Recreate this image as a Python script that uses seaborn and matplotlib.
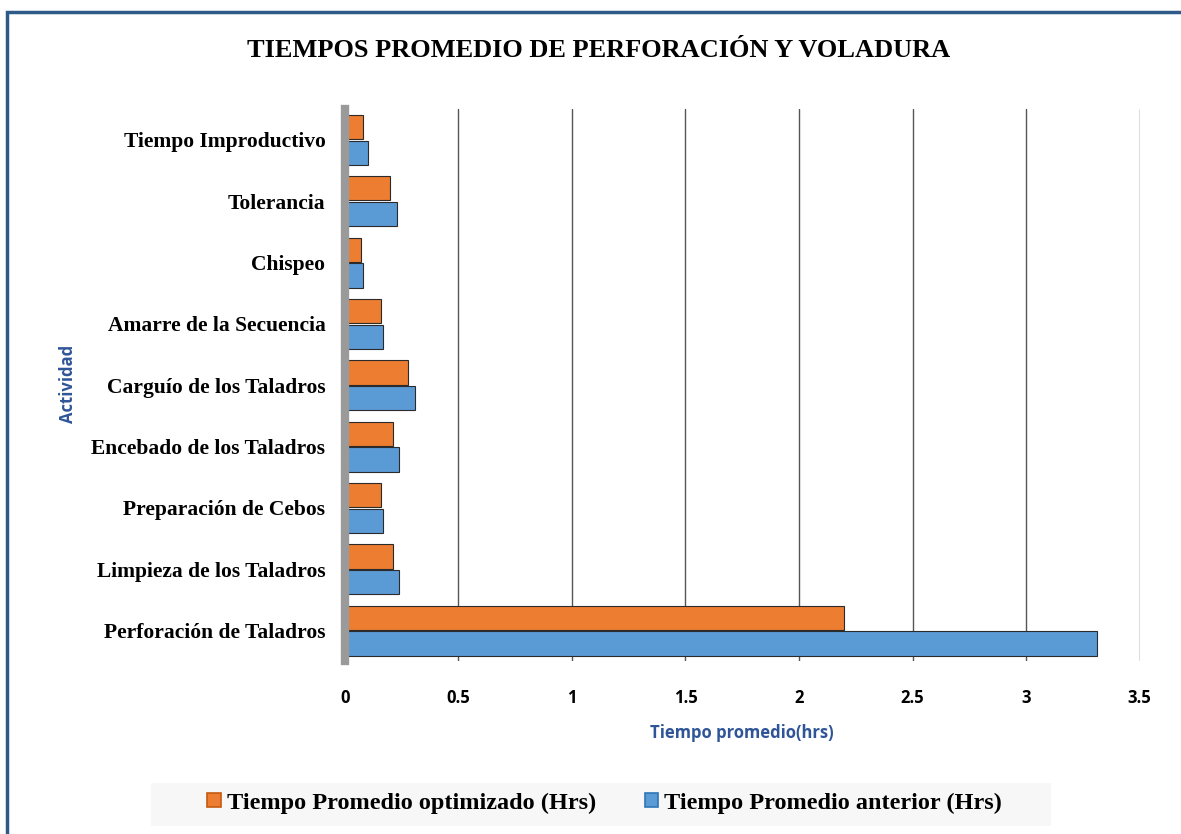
import matplotlib
matplotlib.use('Agg')
import matplotlib.pyplot as plt
import matplotlib.patches as mpatches
import seaborn as sns
import pandas as pd

actividades = ['Tiempo Improductivo', 'Tolerancia', 'Chispeo', 'Amarre de la Secuencia',
               'Carguío de los Taladros', 'Encebado de los Taladros', 'Preparación de Cebos',
               'Limpieza de los Taladros', 'Perforación de Taladros']
optimizado = [0.08, 0.2, 0.07, 0.16, 0.28, 0.21, 0.16, 0.21, 2.2]
anterior = [0.1, 0.23, 0.08, 0.17, 0.31, 0.24, 0.17, 0.24, 3.31]
series = ['Tiempo Promedio optimizado (Hrs)', 'Tiempo Promedio anterior (Hrs)']
colores = ['#ED7D31', '#5B9BD5']
bordes = ['#C55A11', '#2E75B6']
xticks = [0, 0.5, 1, 1.5, 2, 2.5, 3, 3.5]

df = pd.DataFrame({
    'Actividad': actividades * 2,
    'Tiempo': optimizado + anterior,
    'Serie': [series[0]] * len(actividades) + [series[1]] * len(actividades),
})

sns.set_style('white')
plt.rcParams['font.family'] = ['DejaVu Sans']
plt.rcParams['text.color'] = 'black'
plt.rcParams['xtick.color'] = 'black'
plt.rcParams['ytick.color'] = 'black'

fig = plt.figure(figsize=(11.81, 8.34), dpi=100)
ax = fig.add_axes([0.292, 0.207, 0.673, 0.662])

sns.barplot(data=df, y='Actividad', x='Tiempo', hue='Serie', hue_order=series,
            palette=colores, saturation=1, orient='h', width=0.84, gap=0.06, ax=ax,
            edgecolor='#2b2b2b', linewidth=0.8, legend=False)

ax.set_xlim(0, 3.5)
ax.set_xticks(xticks)
ax.set_xticklabels([f'{t:g}' for t in xticks], fontsize=12, fontweight='bold',
                   family='Open Sans')
ax.tick_params(axis='x', length=0, pad=20)
ax.tick_params(axis='y', length=0, pad=14)
for lbl in ax.get_yticklabels():
    lbl.set_fontfamily('Liberation Serif')
    lbl.set_fontweight('bold')
    lbl.set_fontsize(15.5)

ax.grid(axis='x', color='#555555', linewidth=1.0)
ax.set_axisbelow(True)
for s in ['top', 'right', 'bottom']:
    ax.spines[s].set_visible(False)
ax.spines['left'].set_color('#9a9a9a')
ax.spines['left'].set_linewidth(6)

ax.set_xlabel('Tiempo promedio(hrs)', fontsize=12, fontweight='bold', color='#2F5597',
              family='Open Sans', labelpad=12)
ax.set_ylabel('')
fig.text(0.058, 0.54, 'Actividad', rotation=90, fontsize=12, fontweight='bold',
         color='#2F5597', family='Open Sans', ha='center', va='center')

fig.text(0.507, 0.94, 'TIEMPOS PROMEDIO DE PERFORACIÓN Y VOLADURA', ha='center', va='center',
         fontsize=19, fontweight='bold', family='Liberation Serif')

# light gray legend box at the bottom
fig.patches.append(mpatches.Rectangle((151 / 1181, 1 - 826 / 834), 900 / 1181, 43 / 834,
                                      transform=fig.transFigure, facecolor='#F7F7F7',
                                      edgecolor='none', zorder=0))
handles = [mpatches.Patch(facecolor=c, edgecolor=b, linewidth=1.2)
           for c, b in zip(colores, bordes)]
fig.legend(handles, series, loc='center', bbox_to_anchor=(0.512, 1 - 803 / 834), ncol=2,
           frameon=False, prop={'family': 'Liberation Serif', 'weight': 'bold', 'size': 17.5},
           handlelength=0.55, handleheight=0.55, handletextpad=0.25, columnspacing=2.0)

# outer frame
fig.patches.append(mpatches.Rectangle((7 / 1181, -0.05), 1.1, 1 - 12 / 834 + 0.05,
                                      transform=fig.transFigure, facecolor='none',
                                      edgecolor='#2E5A8A', linewidth=2.5))

fig.savefig('out.png', dpi=100)
